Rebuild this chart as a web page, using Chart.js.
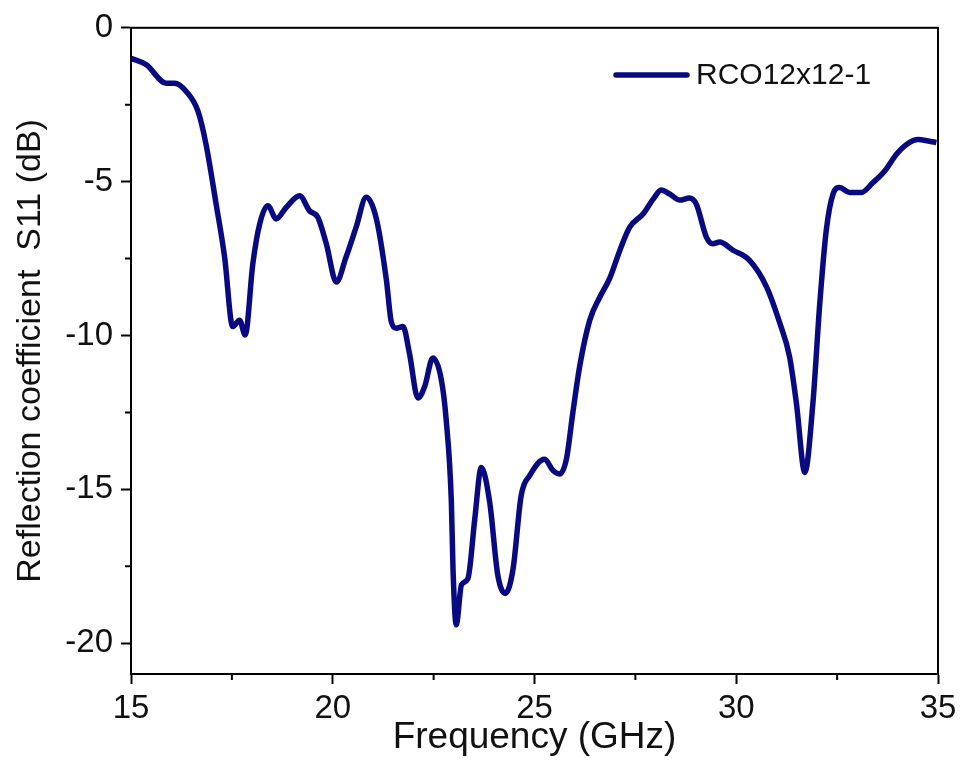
<!DOCTYPE html>
<html>
<head>
<meta charset="utf-8">
<script src="https://cdn.jsdelivr.net/npm/chart.js@4.4.1/dist/chart.umd.min.js"></script>
<style>
  html, body { margin: 0; padding: 0; background: #fff; }
  #wrap { width: 965px; height: 777px; }
</style>
</head>
<body>
<div id="wrap"><canvas id="c" width="965" height="777"></canvas></div>
<script>
const seriesName = 'RCO12x12-1';
const freqGHz = [15.0, 15.38, 15.87, 16.08, 16.37, 16.66, 16.86, 17.11, 17.32, 17.52, 17.69, 17.83,
  18.02, 18.19, 18.39, 18.6, 18.85, 19.18, 19.42, 19.63, 19.84, 20.09, 20.33, 20.58, 20.83,
  21.08, 21.33, 21.45, 21.57, 21.74, 21.9, 22.11, 22.28, 22.48, 22.69, 22.81, 22.94, 22.98,
  23.06, 23.19, 23.35, 23.52, 23.68, 23.89, 24.09, 24.28, 24.47, 24.67, 24.88, 25.25, 25.46,
  25.62, 25.79, 25.95, 26.12, 26.37, 26.62, 26.86, 27.11, 27.36, 27.69, 27.94, 28.14, 28.35,
  28.6, 28.84, 29.01, 29.26, 29.42, 29.59, 29.92, 30.33, 30.75, 31.08, 31.32, 31.49, 31.7,
  31.9, 32.07, 32.23, 32.4, 32.56, 32.81, 33.1, 33.39, 33.68, 33.97, 34.22, 34.51, 34.76, 34.96];
const s11dB = [-0.99, -1.2, -1.8, -1.8, -2.07, -2.71, -3.79, -5.73, -7.45, -9.71, -9.5, -9.98,
  -7.66, -6.37, -5.78, -6.21, -5.83, -5.46, -5.94, -6.16, -7.02, -8.26, -7.45, -6.48, -5.51,
  -6.2, -8.2, -9.55, -9.76, -9.71, -10.57, -12.03, -11.65, -10.73, -11.43, -12.72, -15.42, -17.57,
  -19.4, -18.1, -17.9, -15.96, -14.29, -15.42, -17.78, -18.38, -17.57, -15.2, -14.55, -14.02, -14.39,
  -14.5, -14.02, -12.51, -11.0, -9.5, -8.75, -8.15, -7.25, -6.48, -6.05, -5.57, -5.27, -5.4,
  -5.6, -5.53, -5.73, -6.8, -7.02, -6.96, -7.23, -7.56, -8.42, -9.6, -10.68, -12.19, -14.45,
  -12.19, -8.96, -6.59, -5.4, -5.19, -5.35, -5.35, -5.03, -4.65, -4.11, -3.79, -3.63, -3.68, -3.73];
const xTickValues = [15, 20, 25, 30, 35];
const yTickValues = [-20, -15, -10, -5, 0];
const xMinorTicks = [17.5, 22.5, 27.5, 32.5];
const yMinorTicks = [-2.5, -7.5, -12.5, -17.5];

const lineColor = '#0a0a80';
const FONT = '"Liberation Sans", Arial, sans-serif';

const framePlugin = {
  id: 'frame',
  afterDraw(chart) {
    const ctx = chart.ctx;
    const a = chart.chartArea;
    const xs = chart.scales.x, ys = chart.scales.y;
    ctx.save();
    ctx.strokeStyle = '#000';
    ctx.lineWidth = 2;
    ctx.strokeRect(a.left, a.top, a.right - a.left, a.bottom - a.top);
    ctx.beginPath();
    xMinorTicks.forEach(v => {
      const px = xs.getPixelForValue(v);
      ctx.moveTo(px, a.bottom);
      ctx.lineTo(px, a.bottom + 6);
    });
    yMinorTicks.forEach(v => {
      const py = ys.getPixelForValue(v);
      ctx.moveTo(a.left, py);
      ctx.lineTo(a.left - 6, py);
    });
    ctx.stroke();
    // legend inside plot
    const ds = chart.data.datasets[0];
    ctx.strokeStyle = ds.borderColor;
    ctx.lineWidth = 5.5;
    ctx.lineCap = 'round';
    ctx.beginPath();
    ctx.moveTo(616, 75);
    ctx.lineTo(687, 75);
    ctx.stroke();
    ctx.fillStyle = '#111';
    ctx.font = '30px ' + FONT;
    ctx.textBaseline = 'middle';
    ctx.textAlign = 'left';
    ctx.fillText(ds.label, 696, 76);
    ctx.restore();
  }
};

new Chart(document.getElementById('c'), {
  type: 'line',
  data: {
    datasets: [{
      label: seriesName,
      data: freqGHz.map((f, i) => ({ x: f, y: s11dB[i] })),
      borderColor: lineColor,
      borderWidth: 5.5,
      pointRadius: 0,
      cubicInterpolationMode: 'monotone',
      fill: false
    }]
  },
  options: {
    responsive: false,
    animation: false,
    devicePixelRatio: 1,
    layout: { padding: { left: 0, top: 23, right: 27, bottom: 0 } },
    plugins: { legend: { display: false }, tooltip: { enabled: false } },
    scales: {
      x: {
        type: 'linear', min: 15, max: 35,
        afterBuildTicks(s) { s.ticks = xTickValues.map(v => ({ value: v })); },
        afterFit(s) { s.height = 103; },
        ticks: { color: '#111', font: { family: FONT, size: 33 }, padding: 5, maxRotation: 0 },
        grid: { drawOnChartArea: false, tickLength: 10, tickWidth: 2, tickColor: '#000' },
        border: { display: true, color: '#000', width: 2 },
        title: { display: true, text: 'Frequency (GHz)', color: '#111', font: { family: FONT, size: 37 }, padding: { top: 0, bottom: 17 } }
      },
      y: {
        type: 'linear', min: -21, max: 0,
        afterBuildTicks(s) { s.ticks = yTickValues.map(v => ({ value: v })); },
        afterFit(s) { s.width = 131; },
        ticks: { color: '#111', font: { family: FONT, size: 33 }, padding: 8 },
        grid: { drawOnChartArea: false, tickLength: 10, tickWidth: 2, tickColor: '#000' },
        border: { display: true, color: '#000', width: 2 },
        title: { display: true, text: 'Reflection coefficient  S11 (dB)', color: '#111', font: { family: FONT, size: 34 }, padding: { top: 10, bottom: 0 } }
      }
    }
  },
  plugins: [framePlugin]
});
</script>
</body>
</html>
